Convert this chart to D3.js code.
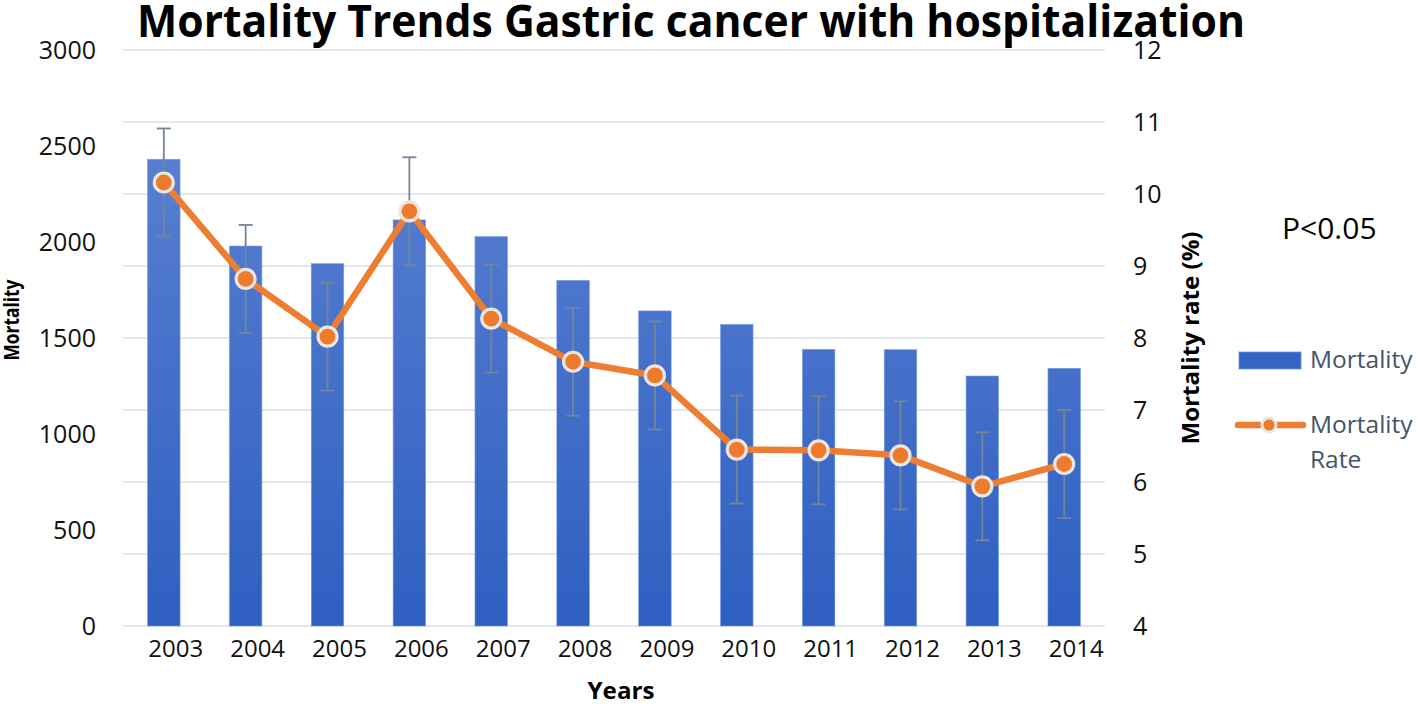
<!DOCTYPE html>
<html>
<head>
<meta charset="utf-8">
<script src="https://cdn.jsdelivr.net/npm/d3@7"></script>
<style>
  html, body { margin: 0; padding: 0; background: #fff; }
  svg { display: block; }
  text { font-family: "Open Sans", "Noto Sans", sans-serif; }
</style>
</head>
<body>
<svg id="chart" width="1418" height="704"></svg>
<script>
const years = ["2003","2004","2005","2006","2007","2008","2009","2010","2011","2012","2013","2014"];
const mortality = [2431, 1979, 1887, 2115, 2028, 1800, 1641, 1571, 1441, 1439, 1302, 1342];
const mortalityRate = [10.16, 8.82, 8.02, 9.76, 8.27, 7.67, 7.48, 6.45, 6.44, 6.37, 5.94, 6.25];
const rateError = [0.75, 0.75, 0.75, 0.75, 0.75, 0.75, 0.75, 0.75, 0.75, 0.75, 0.75, 0.75];
const leftTicks = [0, 500, 1000, 1500, 2000, 2500, 3000];
const rightTicks = [4, 5, 6, 7, 8, 9, 10, 11, 12];

const svg = d3.select("#chart");
const plot = { left: 123, right: 1105, top: 50, bottom: 626 };

const x = d3.scaleBand().domain(years).range([plot.left, plot.right]).paddingInner(0.603).paddingOuter(0.3);
const yL = d3.scaleLinear().domain([0, 3000]).range([plot.bottom, plot.top]);
const yR = d3.scaleLinear().domain([4, 12]).range([plot.bottom, plot.top]);

const defs = svg.append("defs");
const grad = defs.append("linearGradient").attr("id", "barGrad")
  .attr("gradientUnits", "userSpaceOnUse")
  .attr("x1", 0).attr("x2", 0).attr("y1", plot.top).attr("y2", plot.bottom);
grad.append("stop").attr("offset", "0%").attr("stop-color", "#6186d4");
grad.append("stop").attr("offset", "100%").attr("stop-color", "#2e5fc1");

// gridlines (right axis)
svg.append("g").selectAll("line").data(rightTicks).join("line")
  .attr("x1", plot.left).attr("x2", plot.right)
  .attr("y1", d => yR(d)).attr("y2", d => yR(d))
  .attr("stroke", "#dadfe8").attr("stroke-width", 1.5);

// bars
svg.append("g").selectAll("rect").data(years).join("rect")
  .attr("x", d => x(d))
  .attr("width", x.bandwidth())
  .attr("y", (d, i) => yL(mortality[i]))
  .attr("height", (d, i) => yL(0) - yL(mortality[i]))
  .attr("fill", "url(#barGrad)")
  .attr("stroke", "#7b9be0").attr("stroke-width", 0.6);

// error bars on rate
const eb = svg.append("g").attr("stroke", "#74859a").attr("stroke-width", 1.8).attr("fill", "none");
years.forEach((d, i) => {
  const cx = x(d) + x.bandwidth() / 2;
  const y1 = yR(mortalityRate[i] + rateError[i]);
  const y2 = yR(mortalityRate[i] - rateError[i]);
  eb.append("line").attr("x1", cx).attr("x2", cx).attr("y1", y1).attr("y2", y2);
  eb.append("line").attr("x1", cx - 7).attr("x2", cx + 7).attr("y1", y1).attr("y2", y1);
  eb.append("line").attr("x1", cx - 7).attr("x2", cx + 7).attr("y1", y2).attr("y2", y2);
});

// rate line
const line = d3.line().x((d, i) => x(years[i]) + x.bandwidth() / 2).y(d => yR(d));
svg.append("path").datum(mortalityRate)
  .attr("d", line).attr("fill", "none")
  .attr("stroke", "#ed7d31").attr("stroke-width", 6.5)
  .attr("stroke-linejoin", "round");

svg.append("g").selectAll("circle").data(mortalityRate).join("circle")
  .attr("cx", (d, i) => x(years[i]) + x.bandwidth() / 2)
  .attr("cy", d => yR(d))
  .attr("r", 9.5)
  .attr("fill", "#ee7b2c").attr("stroke", "#e8e6e4").attr("stroke-width", 3.2);

// left axis labels
svg.append("g").selectAll("text").data(leftTicks).join("text")
  .attr("x", 96).attr("y", d => yL(d)).attr("dy", "0.36em")
  .attr("text-anchor", "end").attr("font-size", 25).attr("fill", "#111")
  .text(d => d);

// right axis labels
svg.append("g").selectAll("text").data(rightTicks).join("text")
  .attr("x", 1133).attr("y", d => yR(d)).attr("dy", "0.36em")
  .attr("text-anchor", "start").attr("font-size", 25).attr("fill", "#111")
  .text(d => d);

// x labels
svg.append("g").selectAll("text").data(years).join("text")
  .attr("x", d => x(d) + x.bandwidth() / 2 + 12).attr("y", 657)
  .attr("text-anchor", "middle").attr("font-size", 24).attr("fill", "#111")
  .text(d => d);

// title
svg.append("text").attr("x", 137).attr("y", 37)
  .attr("font-size", 45).attr("font-weight", "bold").attr("fill", "#000")
  .attr("textLength", 1108).attr("lengthAdjust", "spacingAndGlyphs")
  .text("Mortality Trends Gastric cancer with hospitalization");

// axis titles
svg.append("text").attr("transform", "translate(19,320) rotate(-90)")
  .attr("text-anchor", "middle").attr("font-size", 21).attr("font-weight", "bold").attr("fill", "#000")
  .attr("textLength", 81).attr("lengthAdjust", "spacingAndGlyphs")
  .text("Mortality");
svg.append("text").attr("transform", "translate(1199,338) rotate(-90)")
  .attr("text-anchor", "middle").attr("font-size", 23).attr("font-weight", "bold").attr("fill", "#000")
  .attr("textLength", 213).attr("lengthAdjust", "spacingAndGlyphs")
  .text("Mortality rate (%)");
svg.append("text").attr("x", 621).attr("y", 699)
  .attr("text-anchor", "middle").attr("font-size", 23).attr("font-weight", "bold").attr("fill", "#000")
  .attr("textLength", 67).attr("lengthAdjust", "spacingAndGlyphs")
  .text("Years");

// P value
svg.append("text").attr("x", 1282).attr("y", 239)
  .attr("font-size", 30).attr("fill", "#000").text("P<0.05");

// legend
const lg = svg.append("g");
lg.append("rect").attr("x", 1239).attr("y", 352).attr("width", 62).attr("height", 17)
  .attr("fill", "#3464c4").attr("stroke", "#6e92dc").attr("stroke-width", 0.8);
lg.append("text").attr("x", 1310).attr("y", 368).attr("font-size", 24.5).attr("fill", "#44546a").text("Mortality");
lg.append("line").attr("x1", 1238).attr("x2", 1303).attr("y1", 425).attr("y2", 425)
  .attr("stroke", "#ed7d31").attr("stroke-width", 6.5).attr("stroke-linecap", "round");
lg.append("circle").attr("cx", 1269).attr("cy", 425).attr("r", 7)
  .attr("fill", "#ee7b2c").attr("stroke", "#e8e6e4").attr("stroke-width", 3);
lg.append("text").attr("x", 1310).attr("y", 433).attr("font-size", 24.5).attr("fill", "#44546a").text("Mortality");
lg.append("text").attr("x", 1310).attr("y", 468).attr("font-size", 24.5).attr("fill", "#44546a").text("Rate");
</script>
</body>
</html>
